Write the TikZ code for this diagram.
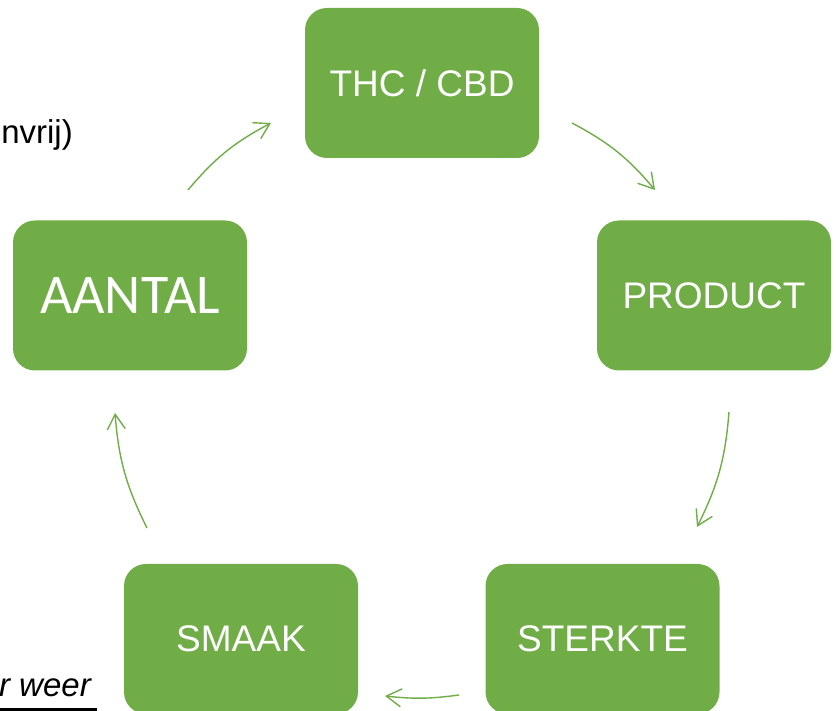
\documentclass[tikz,border=0pt]{standalone}
\usepackage{fontspec}
\setmainfont{Liberation Sans}
\newfontfamily\aantalfont{Carlito}
\usetikzlibrary{arrows.meta,positioning}
\definecolor{leafgreen}{HTML}{70AD47}

\begin{document}
\begin{tikzpicture}[x=1pt,y=1pt,
    stepbox/.style={fill=leafgreen, rounded corners=22pt,
        minimum width=234pt, minimum height=150pt, inner sep=0pt,
        text=white, font=\fontsize{37}{44}\selectfont},
    loopline/.style={leafgreen, line width=1.4pt,
        -{Straight Barb[length=15pt,width=18pt]}}]
    \useasboundingbox (0,0) rectangle (836,711);
    % the five boxes of the cycle
    \node [stepbox] (thc) at (422,628) {THC / CBD};
    \node [stepbox] (product) at (714,415.5) {PRODUCT};
    \node [stepbox] (sterkte) at (602.5,72) {STERKTE};
    \node [stepbox] (smaak) at (241,72) {SMAAK};
    \node [stepbox, font=\aantalfont\fontsize{56}{67}\selectfont] (aantal) at (130,415.5) {AANTAL};
    % text cut off at the left edge
    \node [anchor=base east, inner sep=0pt, font=\fontsize{33}{40}\selectfont] (nvrij) at (73,567) {nvrij)};
    \node [anchor=base east, inner sep=0pt, font=\itshape\fontsize{33}{40}\selectfont] (weer) at (91,14) {r weer};
    \draw [line width=3pt] (0,1.5) -- (97,1.5);
    % arrow ends
    \coordinate (thcout) at (572,588);
    \coordinate (productin) at (655,521);
    \coordinate (productout) at (729,299);
    \coordinate (sterktein) at (697,184);
    \coordinate (sterkteout) at (459,16);
    \coordinate (smaakin) at (385,15);
    \coordinate (smaakout) at (147,183);
    \coordinate (aantalin) at (115,298);
    \coordinate (aantalout) at (188,521);
    \coordinate (thcin) at (271,588);
    \draw [loopline] (thcout) to[bend left=11] (productin);
    \draw [loopline] (productout) to[bend left=11] (sterktein);
    \draw [loopline] (sterkteout) to[bend left=7] (smaakin);
    \draw [loopline] (smaakout) to[bend left=11] (aantalin);
    \draw [loopline] (aantalout) to[bend left=11] (thcin);
\end{tikzpicture}
\end{document}
